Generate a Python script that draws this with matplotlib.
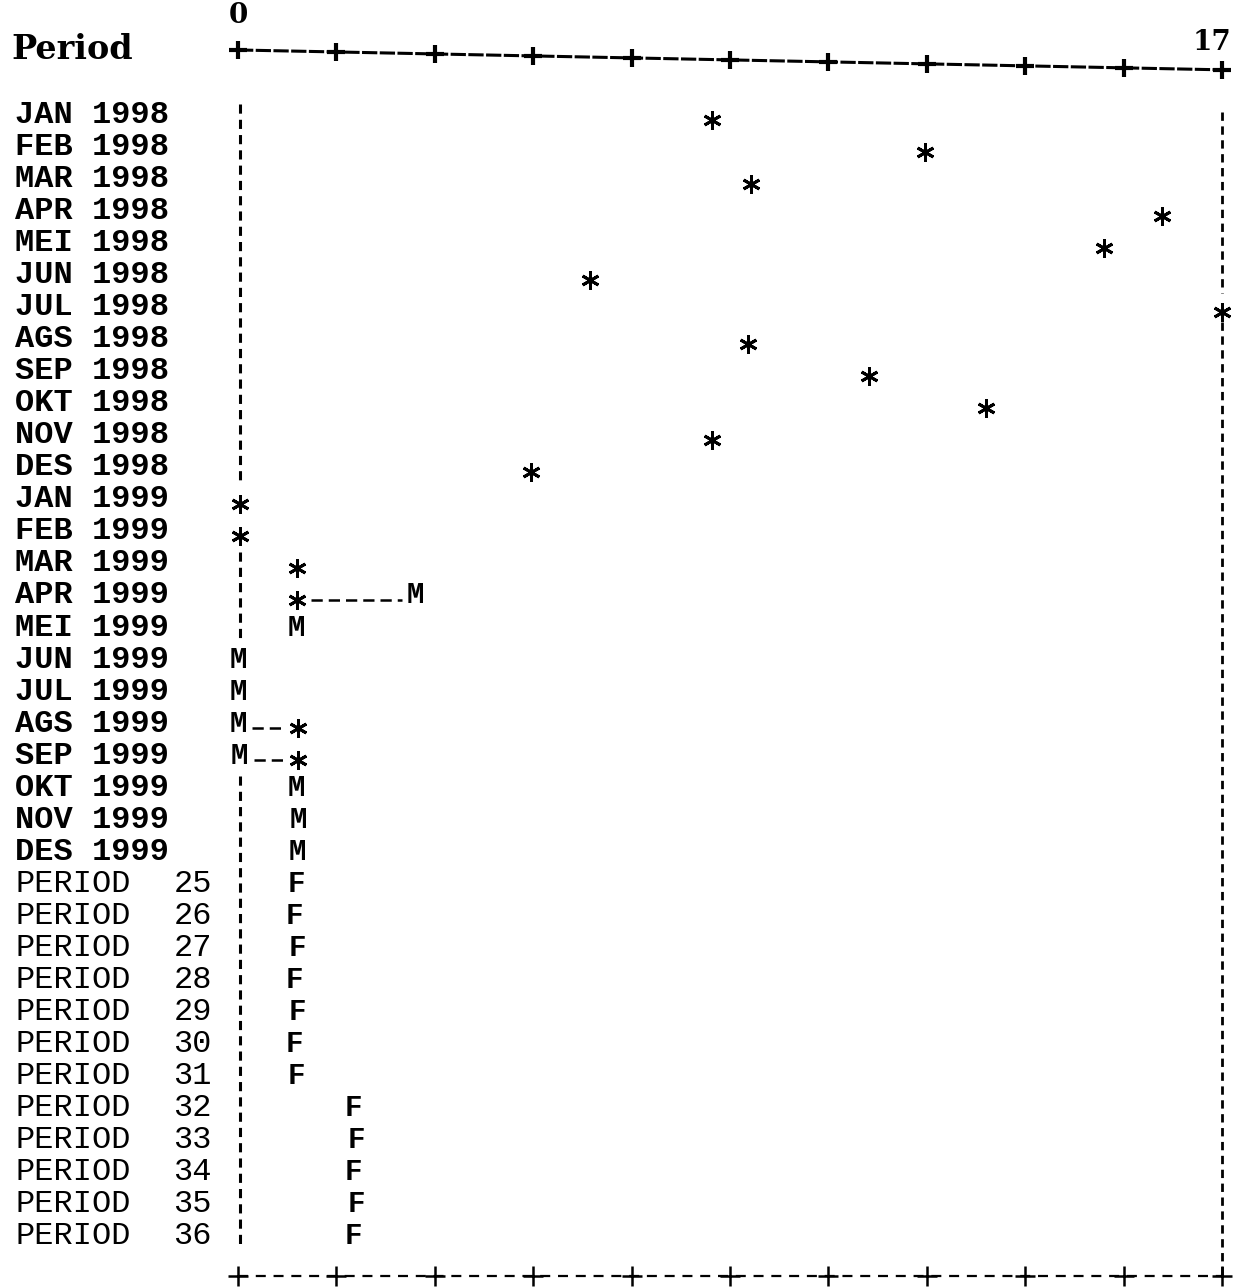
import matplotlib
matplotlib.use("Agg")
import matplotlib.pyplot as plt

# --- sequence chart data: actual (*), model fit (M), forecast (F) ---
months = ["JAN", "FEB", "MAR", "APR", "MEI", "JUN", "JUL", "AGS", "SEP", "OKT", "NOV", "DES"]
years = [1998, 1999]
forecast_periods = list(range(25, 37))

# actual values by row (row 17 is hidden under the model mark)
actual_rows = [1, 2, 3, 4, 5, 6, 7, 8, 9, 10, 11, 12, 13, 14, 15, 16, 20, 21]
actual_vals = [8.19, 11.87, 8.86, 15.96, 14.97, 6.08, 17.0, 8.81, 10.9, 12.92, 8.19, 5.06,
               0.03, 0.03, 1.02, 1.02, 1.03, 1.03]

# model fit, rows 16..24
model_rows = [16, 17, 18, 19, 20, 21, 22, 23, 24]
model_vals = [3.06, 1.0, 0.0, 0.0, 0.0, 0.03, 1.0, 1.05, 1.02]

# forecasts, periods 25..36
forecast_vals = [1.0, 0.97, 1.02, 0.97, 1.02, 0.97, 1.0, 2.0, 2.05, 2.0, 2.05, 2.0]

x_min, x_max = 0, 17
n_ticks = 11

row_labels = [f"{m} {y}" for y in years for m in months]

MONO = "Liberation Mono"
FS = 23

fig = plt.figure(figsize=(12.4, 12.88), dpi=100)
ax = fig.add_axes([0, 0, 1, 1])
ax.set_xlim(-4.112, 17.311)
ax.set_ylim(37.62, -2.59)
ax.axis("off")

# row labels on the left
for i, lab in enumerate(row_labels, start=1):
    ax.text(-3.85, i, lab, fontsize=FS, family=MONO, fontweight="bold",
            ha="left", va="center")
for i, p in enumerate(forecast_periods, start=len(row_labels) + 1):
    ax.text(-3.85, i, "PERIOD", fontsize=FS, family=MONO, ha="left", va="center")
    ax.text(-0.45, i, str(p), fontsize=FS, family=MONO, ha="right", va="center")

# header
ax.text(-3.92, -1.03, "Period", fontsize=24, family="DejaVu Serif",
        fontweight="bold", ha="left", va="center")
ax.text(x_min, -2.12, str(x_min), fontsize=20, family="DejaVu Serif",
        fontweight="bold", ha="center", va="center")
ax.text(x_max - 0.17, -1.27, str(x_max), fontsize=20, family="DejaVu Serif",
        fontweight="bold", ha="center", va="center")

# top scale (printed slightly tilted)
top_left, top_right = -1.03, -0.41
ticks = [x_min + k * (x_max - x_min) / (n_ticks - 1) for k in range(n_ticks)]
tick_rows = [top_left + (t - x_min) / (x_max - x_min) * (top_right - top_left) for t in ticks]
ax.plot([x_min, x_max], [top_left, top_right], color="black", lw=2.2,
        linestyle=(0, (5, 0.8)))
ax.plot(ticks, tick_rows, linestyle="none", marker="+", color="black",
        markersize=13, mew=3)

# bottom scale
bottom_row = 37.25
ax.plot([x_min, x_max], [bottom_row, bottom_row], color="black", lw=1.6,
        linestyle=(0, (4.5, 3.5)))
ax.plot(ticks, [bottom_row] * n_ticks, linestyle="none", marker="+", color="black",
        markersize=14, mew=1.8)

# left border: broken bar on rows without a mark at zero
zero_rows = set(r for r, v in zip(actual_rows, actual_vals) if v < 0.2)
zero_rows |= set(r for r, v in zip(model_rows, model_vals) if v < 0.2)
n_rows = len(row_labels) + len(forecast_periods)
runs, start = [], None
for r in range(1, n_rows + 1):
    if r not in zero_rows and start is None:
        start = r
    if r in zero_rows and start is not None:
        runs.append((start, r - 1))
        start = None
if start is not None:
    runs.append((start, n_rows))
for a, b in runs:
    ax.plot([0.04, 0.04], [a - 0.35, b + 0.4], color="black", lw=2.2,
            linestyle=(0, (3.0, 2.0)))

# right border, broken where a value touches the maximum
edge_rows = [r for r, v in zip(actual_rows, actual_vals) if v >= x_max - 0.1]
segs = [0.9] + [s for r in edge_rows for s in (r - 0.45, r + 0.45)] + [bottom_row]
for a, b in zip(segs[0::2], segs[1::2]):
    ax.plot([x_max, x_max], [a, b], color="black", lw=2.0,
            linestyle=(0, (3.0, 2.0)))

# connectors between actual and fit on the same row
act = dict(zip(actual_rows, actual_vals))
mod = dict(zip(model_rows, model_vals))
for r in sorted(set(act) & set(mod)):
    lo, hi = sorted((act[r], mod[r]))
    ax.plot([lo + 0.24, hi - 0.22], [r + 0.15, r + 0.15], color="black", lw=1.8,
            linestyle=(0, (4.5, 2.4)))

# marks
ax.plot(actual_vals, [r + 0.15 for r in actual_rows], linestyle="none",
        marker=(6, 2, 0), markersize=13, mew=2.1, color="black")
for r, v in zip(model_rows, model_vals):
    ax.text(v, r, "M", fontsize=FS - 2, family=MONO, fontweight="bold",
            ha="center", va="center")
for i, v in enumerate(forecast_vals, start=len(row_labels) + 1):
    ax.text(v, i, "F", fontsize=FS - 2, family=MONO, fontweight="bold",
            ha="center", va="center")

fig.savefig("out.png", dpi=100, facecolor="white")
